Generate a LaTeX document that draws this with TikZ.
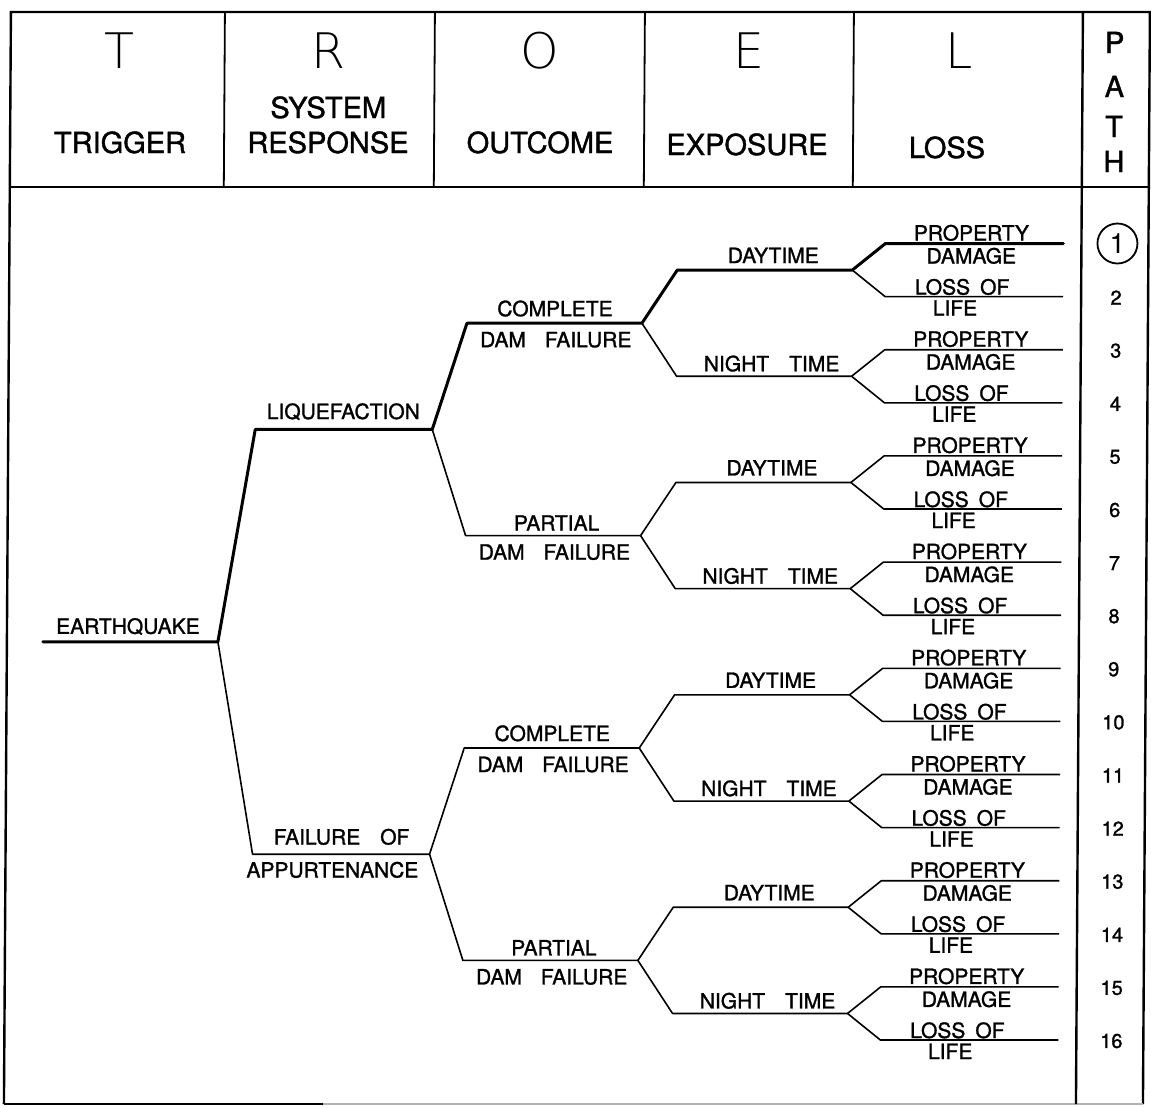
\documentclass[tikz,border=0pt]{standalone}
\usepackage{fontspec}
\setmainfont{TeX Gyre Heros}
\newfontfamily\lblfont{TeX Gyre Heros}[FakeBold=1.3]
\newfontfamily\thinfont{DejaVuSans-ExtraLight.ttf}
\begin{document}
\begin{tikzpicture}[x=1pt,y=-1pt,
  frame/.style={line width=2.4pt},
  div/.style={line width=1.8pt},
  thk/.style={line width=3pt, line join=round, line cap=round},
  thn/.style={line width=1.6pt, line join=round},
  lbl/.style={inner sep=0pt, anchor=base, font=\lblfont\fontsize{21}{21}\selectfont},
  hdr/.style={inner sep=0pt, anchor=base, font=\lblfont\fontsize{29}{29}\selectfont},
  big/.style={inner sep=0pt, anchor=base, font=\thinfont\fontsize{49}{49}\selectfont},
  num/.style={inner sep=0pt, font=\lblfont\fontsize{20}{20}\selectfont}]
\useasboundingbox (0,0) rectangle (1151,1108);
\fill[white] (0,0) rectangle (1151,1108);
\begin{scope}[xslant=0.0064]
% ---------- frame ----------
\draw[frame] (11,1104) -- (11,12) -- (1150,12) -- (1150,1104);
\draw[frame] (11,187) -- (1150,187);
\draw[line width=2pt] (11,1104) -- (330,1104);
\draw[line width=1.4pt, black!30] (330,1104) -- (1150,1104);
\draw[div] (225,12) -- (225,187);
\draw[div] (435,12) -- (435,187);
\draw[div] (645,12) -- (645,187);
\draw[div] (854,12) -- (854,187);
\draw[frame] (1083,12) -- (1083,1104);
% ---------- header ----------
\node[big] (bT) at (120,68) {T};
\node[big] (bR) at (329,68) {R};
\node[big] (bO) at (540,68) {O};
\node[big] (bE) at (749,68) {E};
\node[big] (bL) at (960,68) {L};
\node[hdr] (hTR) at (121,153) {TRIGGER};
\node[hdr] (hSY) at (329,118) {SYSTEM};
\node[hdr] (hRE) at (329,153) {RESPONSE};
\node[hdr] (hOU) at (541,153) {OUTCOME};
\node[hdr] (hEX) at (748,155) {EXPOSURE};
\node[hdr] (hLO) at (948,158) {LOSS};
\node[hdr] (hP) at (1115,53) {P};
\node[hdr] (hA) at (1115,97) {A};
\node[hdr] (hT) at (1115,137) {T};
\node[hdr] (hH) at (1115,172) {H};
% ---------- coordinates ----------
\coordinate (tgS) at (47,641.8);
\coordinate (tgE) at (222,641.8);
\coordinate (rsS1) at (258,429.4);
\coordinate (rsE1) at (435,429.4);
\coordinate (rsS2) at (258,854.2);
\coordinate (rsE2) at (435,854.2);
\foreach \i in {1,...,4}{
  \pgfmathsetmacro\yy{323.2+212.4*(\i-1)}
  \coordinate (ocS\i) at (469,\yy);
  \coordinate (ocE\i) at (644,\yy);
}
\foreach \j in {1,...,8}{
  \pgfmathsetmacro\yy{270.05+106.2*(\j-1)}
  \coordinate (exS\j) at (679,\yy);
  \coordinate (exE\j) at (854,\yy);
}
\foreach \k in {1,...,16}{
  \pgfmathsetmacro\yy{243.5+53.1*(\k-1)}
  \coordinate (lfS\k) at (887,\yy);
  \coordinate (lfE\k) at (1065,\yy);
}
% ---------- branches ----------
\draw[thk] (tgS) -- (tgE) -- (rsS1) -- (rsE1) -- (ocS1) -- (ocE1)
  -- (exS1) -- (exE1) -- (lfS1) -- (lfE1);
\draw[thn] (tgE) -- (rsS2) -- (rsE2);
\draw[thn] (rsE1) -- (ocS2) -- (ocE2);
\draw[thn] (rsE2) -- (ocS3) -- (ocE3);
\draw[thn] (rsE2) -- (ocS4) -- (ocE4);
\foreach \j in {2,...,8}{
  \pgfmathtruncatemacro\p{(\j+1)/2}
  \draw[thn] (ocE\p) -- (exS\j) -- (exE\j);
}
\foreach \k in {2,...,16}{
  \pgfmathtruncatemacro\p{(\k+1)/2}
  \draw[thn] (exE\p) -- (lfS\k) -- (lfE\k);
}
% ---------- labels ----------
\node[lbl] (tEQ) at (132,633.8) {EARTHQUAKE};
\node[lbl] (tLQ) at (346,419) {LIQUEFACTION};
\node[lbl] (tFA) at (347,844.5) {FAILURE\hspace{20pt}OF};
\node[lbl] (tAP) at (338,877.5) {APPURTENANCE};
\foreach \i in {1,...,4}{
  \pgfmathsetmacro\yy{323.2+212.4*(\i-1)}
  \ifodd\i
    \node[lbl] (oA\i) at (557,\yy-7) {COMPLETE};
  \else
    \node[lbl] (oA\i) at (560,\yy-5) {PARTIAL};
  \fi
  \node[lbl] (oB\i) at (558,\yy+24) {DAM\hspace{19pt}FAILURE};
}
\foreach \j in {1,...,8}{
  \pgfmathsetmacro\yy{270.05+106.2*(\j-1)}
  \ifodd\j
    \node[lbl] (eA\j) at (775,\yy-7) {DAYTIME};
  \else
    \node[lbl] (eA\j) at (774,\yy-5) {NIGHT\hspace{20pt}TIME};
  \fi
}
\foreach \k in {1,...,16}{
  \pgfmathsetmacro\yy{243.5+53.1*(\k-1)}
  \ifodd\k
    \node[lbl] (lA\k) at (973,\yy-3) {PROPERTY};
    \node[lbl] (lB\k) at (973,\yy+20) {DAMAGE};
  \else
    \node[lbl] (lA\k) at (964,\yy-2) {LOSS\hspace{10pt}OF};
    \node[lbl] (lB\k) at (957,\yy+19) {LIFE};
  \fi
}
\foreach \k in {2,...,16}{
  \pgfmathsetmacro\yy{243.5+53.1*(\k-1)}
  \node[num] (pn\k) at (1118,\yy+1) {\k};
}
\node[circle, draw, line width=1.8pt, minimum size=40pt, inner sep=0pt,
  font=\fontsize{28}{28}\selectfont] (pn1) at (1119,243.5) {1};
\end{scope}
\end{tikzpicture}
\end{document}
